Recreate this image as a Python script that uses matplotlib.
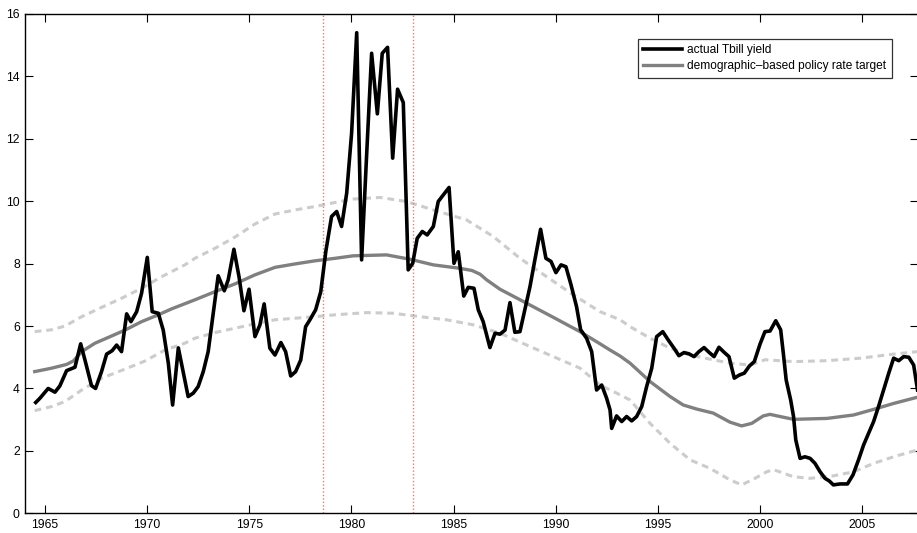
import numpy as np
import matplotlib
matplotlib.use("Agg")
import matplotlib.pyplot as plt

plt.rcParams['font.family'] = ['Liberation Sans', 'DejaVu Sans']

# quarterly 3-month Tbill yield (%)
tbill_year = [1964.55, 1964.76, 1965.16, 1965.49, 1965.73, 1966.06, 1966.47, 1966.75, 1966.96, 1967.28,
              1967.48, 1967.77, 1968.02, 1968.29, 1968.51, 1968.75, 1969.00, 1969.21, 1969.49, 1969.73,
              1970.01, 1970.25, 1970.55, 1970.79, 1971.04, 1971.25, 1971.53, 1972.01, 1972.26, 1972.50,
              1972.75, 1972.99, 1973.24, 1973.48, 1973.78, 1973.97, 1974.25, 1974.50, 1974.74, 1974.99,
              1975.28, 1975.52, 1975.73, 1976.01, 1976.26, 1976.55, 1976.78, 1977.03, 1977.27, 1977.52,
              1977.76, 1977.97, 1978.25, 1978.50, 1978.75, 1979.03, 1979.28, 1979.52, 1979.77, 1980.01,
              1980.26, 1980.50, 1980.75, 1980.99, 1981.27, 1981.51, 1981.77, 1982.02, 1982.26, 1982.54,
              1982.78, 1983.00, 1983.22, 1983.47, 1983.71, 1984.01, 1984.25, 1984.50, 1984.78, 1985.02,
              1985.23, 1985.50, 1985.72, 1986.00, 1986.21, 1986.45, 1986.62, 1986.78, 1987.03, 1987.27,
              1987.52, 1987.76, 1988.00, 1988.25, 1988.49, 1988.74, 1988.98, 1989.26, 1989.52, 1989.77,
              1990.01, 1990.26, 1990.50, 1990.75, 1991.02, 1991.22, 1991.51, 1991.76, 1992.00, 1992.25,
              1992.49, 1992.66, 1992.74, 1992.98, 1993.23, 1993.47, 1993.72, 1993.96, 1994.21, 1994.45,
              1994.70, 1994.94, 1995.24, 1995.51, 1995.79, 1996.03, 1996.28, 1996.52, 1996.77, 1997.01,
              1997.26, 1997.50, 1997.75, 1997.99, 1998.24, 1998.48, 1998.74, 1998.99, 1999.23, 1999.48,
              1999.72, 2000.00, 2000.24, 2000.49, 2000.77, 2001.01, 2001.14, 2001.28, 2001.50, 2001.64,
              2001.75, 2001.96, 2002.20, 2002.45, 2002.69, 2002.94, 2003.18, 2003.38, 2003.59, 2003.92,
              2004.28, 2004.55, 2004.82, 2005.07, 2005.31, 2005.56, 2005.80, 2006.05, 2006.30, 2006.54,
              2006.79, 2007.03, 2007.28, 2007.52, 2007.71]
tbill_rate = [3.55, 3.69, 4.00, 3.88, 4.08, 4.57, 4.68, 5.43, 4.91, 4.09,
              4.00, 4.54, 5.10, 5.21, 5.39, 5.18, 6.39, 6.14, 6.46, 7.05,
              8.20, 6.46, 6.41, 5.87, 4.81, 3.47, 5.30, 3.74, 3.85, 4.06,
              4.54, 5.18, 6.41, 7.61, 7.13, 7.48, 8.46, 7.58, 6.49, 7.18,
              5.66, 6.03, 6.71, 5.29, 5.07, 5.47, 5.18, 4.40, 4.54, 4.91,
              5.98, 6.20, 6.52, 7.10, 8.40, 9.51, 9.67, 9.19, 10.26, 12.18,
              15.40, 8.12, 11.54, 14.74, 12.80, 14.74, 14.93, 11.38, 13.59, 13.16,
              7.80, 8.01, 8.81, 9.03, 8.92, 9.19, 9.99, 10.20, 10.44, 8.01,
              8.38, 6.96, 7.24, 7.21, 6.52, 6.14, 5.71, 5.31, 5.77, 5.74,
              5.87, 6.75, 5.80, 5.82, 6.52, 7.26, 8.12, 9.10, 8.17, 8.07,
              7.71, 7.96, 7.90, 7.32, 6.62, 5.88, 5.61, 5.18, 3.95, 4.11,
              3.69, 3.31, 2.72, 3.12, 2.94, 3.10, 2.96, 3.10, 3.42, 4.06,
              4.65, 5.66, 5.82, 5.55, 5.29, 5.05, 5.15, 5.11, 5.02, 5.18,
              5.31, 5.16, 5.02, 5.32, 5.16, 5.02, 4.33, 4.43, 4.49, 4.72,
              4.86, 5.42, 5.82, 5.84, 6.17, 5.88, 5.13, 4.27, 3.63, 3.10,
              2.35, 1.76, 1.81, 1.76, 1.60, 1.33, 1.12, 1.04, 0.91, 0.94,
              0.94, 1.23, 1.71, 2.19, 2.56, 2.94, 3.42, 3.95, 4.49, 4.97,
              4.89, 5.02, 5.00, 4.75, 3.95]

# demographic-based policy rate target
target_year = [1964.5, 1965.33, 1966.06, 1966.39, 1966.8, 1967.45, 1968.26, 1968.92, 1969.73, 1970.55,
               1971.2, 1972.34, 1973.32, 1974.3, 1975.28, 1976.26, 1977.24, 1978.22, 1979.2, 1980.09,
               1981.72, 1982.21, 1982.87, 1984.01, 1985.31, 1985.9, 1986.3, 1986.62, 1987.27, 1988.58,
               1989.88, 1991.19, 1992.17, 1992.66, 1993.15, 1993.64, 1994.62, 1995.6, 1996.24, 1996.9,
               1997.71, 1998.53, 1999.1, 1999.59, 2000.16, 2000.49, 2000.98, 2001.64, 2003.28, 2004.58,
               2005.56, 2006.54, 2007.71]
target_rate = [4.54, 4.65, 4.77, 4.88, 5.18, 5.45, 5.68, 5.87, 6.14, 6.36,
               6.55, 6.84, 7.10, 7.35, 7.64, 7.88, 7.99, 8.09, 8.17, 8.25,
               8.28, 8.22, 8.14, 7.96, 7.85, 7.78, 7.66, 7.48, 7.18, 6.73,
               6.28, 5.82, 5.43, 5.23, 5.04, 4.81, 4.22, 3.74, 3.47, 3.34,
               3.21, 2.92, 2.80, 2.88, 3.12, 3.17, 3.10, 3.01, 3.04, 3.15,
               3.33, 3.52, 3.72]

# upper and lower bands around the target
upper_year = [1964.5, 1965.33, 1965.98, 1966.8, 1967.78, 1968.75, 1969.73, 1970.71, 1971.85, 1972.34,
              1973.32, 1974.3, 1975.28, 1976.26, 1977.24, 1978.22, 1979.2, 1980.09, 1981.4, 1982.7,
              1984.01, 1985.64, 1986.94, 1988.25, 1989.56, 1990.86, 1992.17, 1993.15, 1993.64, 1994.62,
              1995.6, 1996.58, 1997.55, 1998.53, 1999.51, 2000.25, 2001.64, 2003.28, 2004.91, 2006.54,
              2007.71]
upper_rate = [5.82, 5.88, 6.00, 6.30, 6.60, 6.89, 7.21, 7.58, 7.96, 8.17,
              8.49, 8.85, 9.27, 9.59, 9.72, 9.83, 9.96, 10.07, 10.12, 9.99,
              9.72, 9.40, 8.87, 8.17, 7.58, 7.00, 6.46, 6.20, 5.98, 5.61,
              5.29, 5.07, 4.94, 4.81, 4.75, 4.92, 4.86, 4.89, 4.97, 5.10,
              5.18]
lower_year = [1964.5, 1965.33, 1965.98, 1966.8, 1967.78, 1968.92, 1969.9, 1970.87, 1971.85, 1972.34,
              1973.32, 1974.3, 1975.28, 1976.26, 1977.24, 1978.22, 1979.2, 1980.74, 1982.05, 1983.35,
              1984.66, 1985.96, 1987.27, 1988.58, 1989.88, 1991.19, 1992.17, 1992.98, 1993.64, 1994.62,
              1995.6, 1996.58, 1997.55, 1998.53, 1999.1, 1999.67, 2000.33, 2000.65, 2001.64, 2002.45,
              2003.59, 2004.58, 2005.56, 2006.54, 2007.71]
lower_rate = [3.29, 3.42, 3.58, 3.95, 4.33, 4.62, 4.88, 5.23, 5.45, 5.61,
              5.79, 5.93, 6.07, 6.20, 6.25, 6.30, 6.36, 6.43, 6.41, 6.30,
              6.20, 6.04, 5.77, 5.39, 5.02, 4.65, 4.11, 3.85, 3.63, 2.88,
              2.24, 1.71, 1.44, 1.07, 0.91, 1.09, 1.33, 1.40, 1.17, 1.12,
              1.20, 1.33, 1.60, 1.81, 2.03]

# Volcker period markers
volcker = [1978.6, 1983.0]

fig = plt.figure(figsize=(9.17, 5.33), dpi=100)
ax = fig.add_axes([0.0276, 0.037, 0.973, 0.9368])

ax.plot(upper_year, upper_rate, color='#cccccc', lw=2.2, ls=(0, (2.2, 1.6)))
ax.plot(lower_year, lower_rate, color='#cccccc', lw=2.2, ls=(0, (2.2, 1.6)))
for v in volcker:
    ax.axvline(v, color='#ff7070', lw=1.0, ls=(0, (1, 1.5)))
ax.plot(target_year, target_rate, color='#808080', lw=2.4,
        label='demographic\u2013based policy rate target', zorder=3)
ax.plot(tbill_year, tbill_rate, color='black', lw=2.6, label='actual Tbill yield', zorder=4)

ax.set_xlim(1964.04, 2007.71)
ax.set_ylim(0, 16)
ax.set_xticks(np.arange(1965, 2006, 5))
ax.set_yticks(np.arange(0, 17, 2))
ax.tick_params(direction='in', length=6, width=0.8, top=True, right=True,
               labelsize=8.7, pad=4)
for s in ax.spines.values():
    s.set_linewidth(1.0)

handles, labels = ax.get_legend_handles_labels()
leg = ax.legend(handles[::-1], labels[::-1], loc='upper right',
                bbox_to_anchor=(0.971, 0.95), fontsize=8.6, handlelength=3.3,
                frameon=True, fancybox=False, borderpad=0.45, labelspacing=0.35,
                handletextpad=0.4, borderaxespad=0)
leg.get_frame().set_edgecolor('black')
leg.get_frame().set_linewidth(0.9)

fig.savefig('out.png', dpi=100)
